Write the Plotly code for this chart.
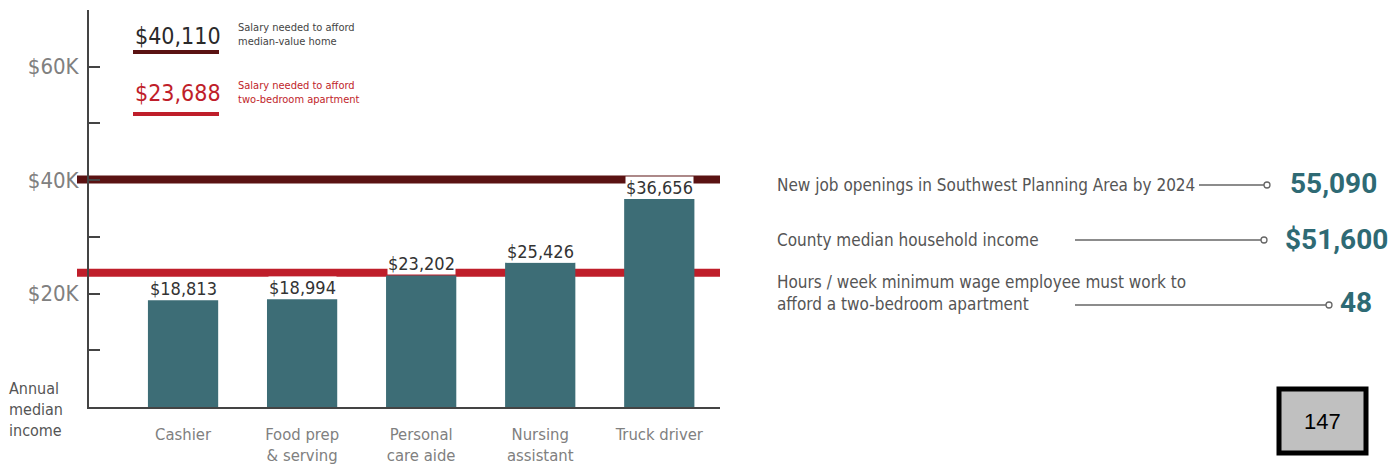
import plotly.graph_objects as go

# ---- data -------------------------------------------------------------
occupations = ["Cashier", "Food prep<br>& serving", "Personal<br>care aide",
               "Nursing<br>assistant", "Truck driver"]
median_income = [18813, 18994, 23202, 25426, 36656]

home_salary = 40110          # salary needed to afford median-value home
rent_salary = 23688          # salary needed to afford two-bedroom apartment

y_tick_vals = [0, 10000, 20000, 30000, 40000, 50000, 60000]
y_tick_text = ["", "", "$20K", "", "$40K", "", "$60K"]

stat_labels = [
    "New job openings in Southwest Planning Area by 2024",
    "County median household income",
    "Hours / week minimum wage employee must work to<br>afford a two-bedroom apartment",
]
stat_values = ["55,090", "$51,600", "48"]
page_number = "147"

# ---- styling ----------------------------------------------------------
W, H = 1394, 466
L, R, T, B = 89, 674, 10, 59
PW, PH = W - L - R, H - T - B

NARROW = "DejaVu Sans Condensed, Liberation Sans Narrow, Roboto Condensed, sans-serif"
BAR = "#3d6d76"
DARK = "#5a1212"
RED = "#bf1e2a"
TEAL_TXT = "#2e6a74"
GRAY = "#808080"
TXT = "#555555"


def px(x):
    """figure pixel x -> paper x"""
    return (x - L) / PW


def py(y):
    """figure pixel y (from top) -> paper y"""
    return (H - B - y) / PH


fig = go.Figure()

fig.add_trace(go.Bar(
    x=list(range(len(occupations))),
    y=median_income,
    width=0.59,
    marker=dict(color=BAR, line=dict(width=0)),
    hoverinfo="skip",
))

shapes = []
annotations = []

# threshold lines behind the bars
for val, col in [(home_salary, DARK), (rent_salary, RED)]:
    shapes.append(dict(type="line", xref="paper", yref="y",
                       x0=px(77), x1=1.0, y0=val, y1=val,
                       line=dict(color=col, width=8), layer="below"))

# value labels above bars (white boxes knock out the lines)
for i, v in enumerate(median_income):
    annotations.append(dict(
        x=i, y=v, xref="x", yref="y", yanchor="bottom", yshift=0,
        text=f"${v:,}", showarrow=False, bgcolor="white", borderpad=0,
        font=dict(family=NARROW, size=18, color="#333333")))

# key in the top-left corner
for val, col, desc, ytxt, yline in [
        (home_salary, DARK, "Salary needed to afford<br>median-value home", 36, 52),
        (rent_salary, RED, "Salary needed to afford<br>two-bedroom apartment", 93, 114)]:
    num_col = "#2a2a2a" if col == DARK else RED
    annotations.append(dict(
        x=px(133), y=py(ytxt), xref="paper", yref="paper", xanchor="left",
        yanchor="middle", text=f"${val:,}", showarrow=False,
        font=dict(family=NARROW, size=23, color=num_col)))
    annotations.append(dict(
        x=px(236), y=py(ytxt - 1), xref="paper", yref="paper", xanchor="left",
        yanchor="middle", align="left", text=desc, showarrow=False,
        font=dict(family=NARROW, size=11, color="#444444" if col == DARK else RED)))
    shapes.append(dict(type="line", xref="paper", yref="paper",
                       x0=px(133), x1=px(219), y0=py(yline), y1=py(yline),
                       line=dict(color=col, width=4)))

# axis caption
annotations.append(dict(
    x=px(7), y=py(409), xref="paper", yref="paper", xanchor="left",
    yanchor="middle", align="left", text="Annual<br>median<br>income",
    showarrow=False, font=dict(family=NARROW, size=16, color=TXT)))

# summary statistics on the right
stat_rows = [
    # label y, line x0, line x1, line y, value x, value y
    (185, 1199, 1264, 185, 1288, 183),
    (240, 1075, 1261, 240, 1283, 240),
    (293, 1075, 1326, 305, 1338, 302),
]
for (lab, val), (ly, lx0, lx1, lny, vx, vy) in zip(zip(stat_labels, stat_values), stat_rows):
    annotations.append(dict(
        x=px(775), y=py(ly), xref="paper", yref="paper", xanchor="left",
        yanchor="middle", align="left", text=lab, showarrow=False,
        font=dict(family=NARROW, size=17, color=TXT)))
    annotations.append(dict(
        x=px(vx), y=py(vy), xref="paper", yref="paper", xanchor="left",
        yanchor="middle", text=f"<b>{val}</b>", showarrow=False,
        font=dict(family="Roboto, sans-serif", size=28, color=TEAL_TXT)))
    shapes.append(dict(type="line", xref="paper", yref="paper",
                       x0=px(lx0), x1=px(lx1), y0=py(lny), y1=py(lny),
                       line=dict(color="#666666", width=1.3)))
    shapes.append(dict(type="circle", xref="paper", yref="paper",
                       x0=px(lx1), x1=px(lx1 + 6), y0=py(lny + 3), y1=py(lny - 3),
                       line=dict(color="#666666", width=1.3), fillcolor="white"))

# page number box
shapes.append(dict(type="rect", xref="paper", yref="paper",
                   x0=px(1279), x1=px(1366), y0=py(453), y1=py(389),
                   line=dict(color="black", width=5), fillcolor="#c0c0c0"))
annotations.append(dict(
    x=px(1322.5), y=py(421), xref="paper", yref="paper", xanchor="center",
    yanchor="middle", text=page_number, showarrow=False,
    font=dict(family="Liberation Sans, Arial, sans-serif", size=22, color="black")))

fig.update_layout(
    width=W, height=H,
    margin=dict(l=L, r=R, t=T, b=B, autoexpand=False),
    paper_bgcolor="white", plot_bgcolor="white",
    showlegend=False,
    shapes=shapes, annotations=annotations,
    xaxis=dict(
        range=[-0.79, 4.51], tickvals=list(range(len(occupations))),
        ticktext=occupations, showline=True, linecolor="#444444", linewidth=2,
        ticks="outside", ticklen=11, tickcolor="rgba(0,0,0,0)",
        showgrid=False, zeroline=False, layer="below traces", automargin=False,
        tickfont=dict(family=NARROW, size=16.5, color=GRAY)),
    yaxis=dict(
        range=[0, 70000], tickvals=y_tick_vals, ticktext=y_tick_text,
        showline=True, linecolor="#444444", linewidth=2,
        ticks="inside", ticklen=11, tickcolor="#444444", tickwidth=1.5,
        ticklabelstandoff=4,
        showgrid=False, zeroline=False, automargin=False,
        tickfont=dict(family=NARROW, size=22, color=GRAY)),
)

fig.write_html("out.html")
